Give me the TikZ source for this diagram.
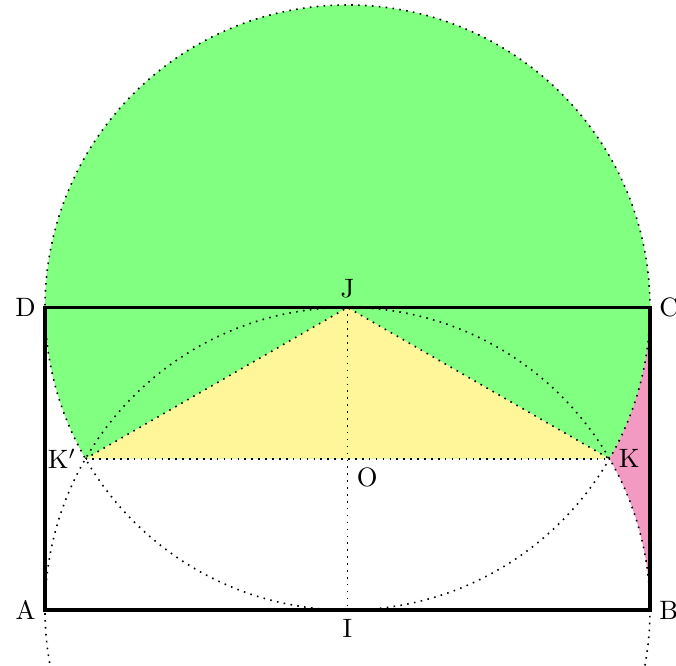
\documentclass[tikz,border=0pt]{standalone}
\usetikzlibrary{calc}
\definecolor{lunegreen}{RGB}{128,255,128}
\definecolor{triyellow}{RGB}{255,246,153}
\definecolor{lunepink}{RGB}{243,154,194}
\tikzset{aux/.style={dotted, line width=0.6pt}}
\begin{document}
\begin{tikzpicture}[x=2cm,y=2cm]
            \clip (-0.2975,-0.37) rectangle (4.172,4.033);
            \coordinate (A) at (0,0);
            \coordinate (B) at (4,0);
            \coordinate (C) at (4,2);
            \coordinate (D) at (0,2);
            \coordinate (I) at (2,0);
            \coordinate (J) at (2,2);
            \coordinate (O) at (2,1);
            \coordinate (K) at ({2+sqrt(3)},1);
            \coordinate (Kp) at ({2-sqrt(3)},1);
            \fill[lunegreen] (K) arc[start angle=-30, end angle=210, radius=2] -- cycle;
            \fill[triyellow] (J) -- (Kp) -- (K) -- cycle;
            \fill[lunepink] (C) arc[start angle=0, end angle=-30, radius=2]
                arc[start angle=30, end angle=0, radius=2] -- cycle;
            \draw[aux] (J) circle[radius=2];
            \draw[aux] (I) circle[radius=2];
            \draw[aux] (Kp) -- (K);
            \draw[aux] (Kp) -- (J) -- (K);
            \draw[aux] (J) -- (I);
            \draw[line width=1.2pt] (A) -- (B) -- (C) -- (D) -- cycle;
            \fill (A) node[left] (lA) {A};
            \fill (B) node[right] (lB) {B};
            \fill (C) node[right] (lC) {C};
            \fill (D) node[left] (lD) {D};
            \fill (I) node[below] (lI) {I};
            \fill (J) node[above] (lJ) {J};
            \fill (O) node[below right] (lO) {O};
            \fill (K) node[right] (lK) {K};
            \fill (Kp) node[left] (lKp) {K$'$};
        \end{tikzpicture}
\end{document}
